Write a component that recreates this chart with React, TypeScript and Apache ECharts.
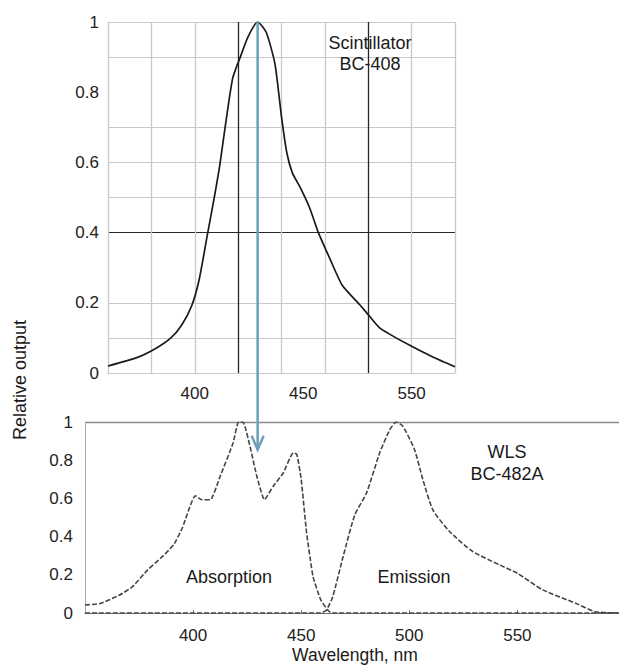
import React, { useEffect, useRef } from "react";
import * as echarts from "echarts";

// ---- Top chart: Scintillator BC-408 emission ----
const scintWl = [360, 373, 382, 389, 394, 398.5, 402, 406, 409, 411.5, 414, 417.5, 421, 424.5, 429, 433, 437, 440, 442.5, 445, 448.5, 453, 457, 462, 468, 476, 480, 485, 490, 500, 510, 520];
const scintVal = [0.02, 0.043, 0.07, 0.1, 0.137, 0.19, 0.265, 0.4, 0.5, 0.59, 0.7, 0.84, 0.9, 0.957, 1.0, 0.97, 0.88, 0.73, 0.626, 0.57, 0.53, 0.47, 0.4, 0.33, 0.25, 0.195, 0.166, 0.13, 0.11, 0.076, 0.045, 0.018];

// ---- Bottom chart: WLS BC-482A ----
const absWl = [350, 357, 366, 372, 379, 385, 391, 395, 401, 404, 408, 412.5, 418.5, 421, 423, 429.5, 433, 437, 441.7, 446.3, 448, 450, 452.5, 455.5, 459, 462, 464, 597];
const absVal = [0.042, 0.05, 0.094, 0.138, 0.226, 0.287, 0.357, 0.445, 0.614, 0.593, 0.593, 0.715, 0.89, 1.0, 1.0, 0.715, 0.593, 0.663, 0.733, 0.838, 0.83, 0.7, 0.42, 0.19, 0.07, 0.02, 0, 0];
const emWl = [350, 459, 461.7, 464.6, 469.4, 474.8, 480.2, 486.3, 491, 494, 497, 502.4, 506.3, 510.9, 518.6, 529.3, 541.7, 550, 561.7, 577, 586, 597];
const emVal = [0, 0, 0.016, 0.086, 0.296, 0.514, 0.628, 0.838, 0.96, 1.0, 0.978, 0.856, 0.698, 0.54, 0.427, 0.322, 0.252, 0.208, 0.121, 0.051, 0.007, 0];

// ---- Tick labels ----
const topXLabelValues = [400, 450, 500];
const topXLabelTexts = ["400", "450", "550"];
const topYLabelValues = [0, 0.2, 0.4, 0.6, 0.8, 1];
const bottomXLabelValues = [400, 450, 500, 550];

// arrow (wavelength of scintillator peak, and target level in lower chart)
const arrowWl = 429;
const arrowTop = 1.0;
const arrowBottom = 0.855;

const FONT = "'Liberation Sans', Arial, sans-serif";
const LIGHT = "#c9c9c9";
const DARK = "#262626";
const NONE = "rgba(0,0,0,0)";

const zip = (a: number[], b: number[]) => a.map((x, i) => [x, b[i]]);

export default function App() {
  const ref = useRef<HTMLDivElement>(null);
  useEffect(() => {
    if (!ref.current) return;
    const chart = echarts.init(ref.current, undefined, { renderer: "svg" });
    const fmtY = (v: number) =>
      topYLabelValues.some((t) => Math.abs(t - v) < 1e-6) ? String(+v.toFixed(1)) : "";
    const tickFont = { color: "#222", fontSize: 17, fontFamily: FONT };
    chart.setOption({
      animation: false,
      backgroundColor: "#fff",
      grid: [
        { left: 108, right: 164, top: 22, bottom: 294 },
        { left: 85, right: 0, top: 422, bottom: 54 },
      ],
      xAxis: [
        {
          type: "value",
          gridIndex: 0,
          min: 360,
          max: 520,
          interval: 20,
          axisLine: { show: true, lineStyle: { color: LIGHT, width: 1 } },
          axisTick: { show: false },
          axisLabel: {
            customValues: topXLabelValues,
            formatter: (v: number) => topXLabelTexts[topXLabelValues.indexOf(v)] ?? "",
            ...tickFont,
            margin: 12,
          },
          splitLine: {
            show: true,
            lineStyle: {
              width: 1.3,
              color: [LIGHT, LIGHT, LIGHT, DARK, LIGHT, LIGHT, DARK, LIGHT, LIGHT],
            },
          },
        },
        {
          type: "value",
          gridIndex: 1,
          min: 350,
          max: 597,
          axisLine: { show: true, lineStyle: { color: "#6a6a6a", width: 1.2 } },
          axisTick: { show: true, inside: true, length: 3, customValues: bottomXLabelValues, lineStyle: { color: "#777" } },
          axisLabel: { customValues: bottomXLabelValues, ...tickFont, margin: 14 },
          splitLine: { show: false },
        },
      ],
      yAxis: [
        {
          type: "value",
          gridIndex: 0,
          min: 0,
          max: 1,
          interval: 0.1,
          axisLine: { show: true, lineStyle: { color: LIGHT, width: 1 } },
          axisTick: { show: false },
          axisLabel: { formatter: fmtY, ...tickFont, margin: 9 },
          splitLine: {
            show: true,
            lineStyle: {
              width: 1.2,
              color: [LIGHT, LIGHT, LIGHT, NONE, DARK, LIGHT, LIGHT, LIGHT, NONE, LIGHT, LIGHT],
            },
          },
        },
        {
          type: "value",
          gridIndex: 1,
          min: 0,
          max: 1,
          interval: 0.2,
          axisLine: { show: true, lineStyle: { color: "#aaa", width: 1 } },
          axisTick: { show: false },
          axisLabel: { formatter: (v: number) => String(+v.toFixed(1)), ...tickFont, margin: 12 },
          splitLine: {
            show: true,
            lineStyle: { width: 1.3, color: [NONE, NONE, NONE, NONE, NONE, "#8a8a8a"] },
          },
        },
      ],
      series: [
        {
          name: "Scintillator BC-408",
          type: "line",
          xAxisIndex: 0,
          yAxisIndex: 0,
          data: zip(scintWl, scintVal),
          showSymbol: false,
          smooth: 0.2,
          lineStyle: { color: "#1a1a1a", width: 1.7 },
          z: 3,
        },
        {
          name: "Absorption",
          type: "line",
          xAxisIndex: 1,
          yAxisIndex: 1,
          data: zip(absWl, absVal),
          showSymbol: false,
          smooth: 0.15,
          lineStyle: { color: "#444", width: 1.6, type: [5, 2] },
          z: 3,
        },
        {
          name: "Emission",
          type: "line",
          xAxisIndex: 1,
          yAxisIndex: 1,
          data: zip(emWl, emVal),
          showSymbol: false,
          smooth: 0.2,
          lineStyle: { color: "#444", width: 1.6, type: [5, 2] },
          z: 3,
        },
      ],
    });

    const p0 = chart.convertToPixel({ xAxisIndex: 0, yAxisIndex: 0 }, [arrowWl, arrowTop]) as number[];
    const p1 = chart.convertToPixel({ xAxisIndex: 1, yAxisIndex: 1 }, [arrowWl, arrowBottom]) as number[];
    const ax = p0[0];
    const textStyle = (text: string, size = 18) => ({ text, fill: "#1a1a1a", fontSize: size, fontFamily: FONT, align: "center", verticalAlign: "middle" });

    chart.setOption({
      graphic: [
        { type: "text", x: 370, y: 43, style: textStyle("Scintillator"), z: 10 },
        { type: "text", x: 370, y: 64, style: textStyle("BC-408"), z: 10 },
        { type: "text", x: 507, y: 452, style: textStyle("WLS"), z: 10 },
        { type: "text", x: 507, y: 474, style: textStyle("BC-482A"), z: 10 },
        { type: "text", x: 229, y: 577, style: textStyle("Absorption"), z: 10 },
        { type: "text", x: 414, y: 577, style: textStyle("Emission"), z: 10 },
        { type: "text", x: 355, y: 655, style: textStyle("Wavelength, nm", 17.5), z: 10 },
        { type: "text", x: 20, y: 380, rotation: Math.PI / 2, style: textStyle("Relative output"), z: 10 },
        {
          type: "line",
          shape: { x1: ax, y1: p0[1], x2: ax, y2: p1[1] },
          style: { stroke: "#6c9fb9", lineWidth: 2.5 },
          z: 20,
        },
        {
          type: "polyline",
          shape: { points: [[ax - 6, p1[1] - 14], [ax, p1[1]], [ax + 6, p1[1] - 14]] },
          style: { stroke: "#6c9fb9", lineWidth: 2.5, fill: "none" },
          z: 20,
        },
      ],
    });

    return () => chart.dispose();
  }, []);
  return (
    <div
      ref={ref}
      style={{ position: "fixed", left: 0, top: 0, width: 619, height: 667, background: "#fff" }}
    />
  );
}
